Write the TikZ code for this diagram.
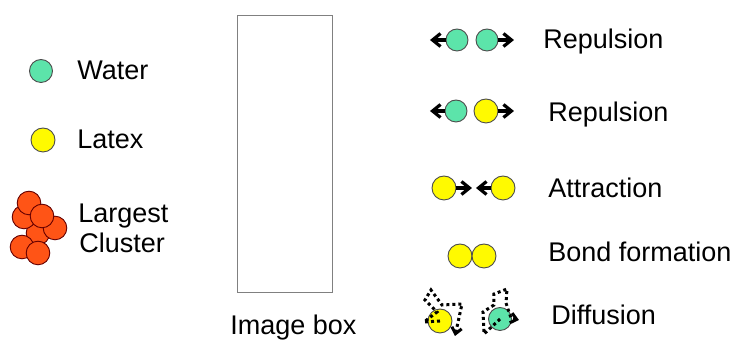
\documentclass[tikz,border=0pt]{standalone}
\usepackage{fontspec}
\setmainfont{Liberation Sans}
\usetikzlibrary{arrows.meta,positioning}
\definecolor{watergreen}{RGB}{92,228,170}
\definecolor{latexyellow}{RGB}{255,250,0}
\definecolor{clusterred}{RGB}{255,84,22}

\begin{document}
\begin{tikzpicture}[
  x=0.5pt, y=-0.5pt,
  ball/.style={circle, draw=black!70, line width=0.45pt, inner sep=0pt, minimum size=11.5pt},
  waterball/.style={ball, fill=watergreen},
  latexball/.style={ball, fill=latexyellow, minimum size=12pt},
  clusterball/.style={ball, fill=clusterred, draw=black!60!red, minimum size=11.8pt},
  lbl/.style={anchor=base west, inner sep=0pt, font=\fontsize{13.5}{16}\selectfont},
  force/.style={-{Straight Barb[length=4pt,width=6.5pt]}, line width=1.6pt},
  walk/.style={line width=1.5pt, dash pattern=on 1.5pt off 1.5pt, -{Straight Barb[length=3pt,width=5pt]}}
]
  \useasboundingbox (0,0) rectangle (736,341);

  % legend
  \node[waterball] (water) at (41,71) {};
  \node[lbl] (waterlbl) at (77,80) {Water};
  \node[latexball] (latex) at (43,140) {};
  \node[lbl] (latexlbl) at (77,149) {Latex};
  \foreach \i/\x/\y in {1/38/233, 2/55/228, 3/24/217, 4/22/247, 5/29/203, 6/42/216, 7/38/253}
    \node[clusterball] (cl\i) at (\x,\y) {};
  \node[lbl] (largest) at (78,223) {Largest};
  \node[lbl] (cluster) at (79,253) {Cluster};

  % image box
  \node[draw=gray, line width=0.5pt, minimum width=47.5pt, minimum height=138.5pt, inner sep=0pt] (imgbox) at (285.5,154.5) {};
  \node[lbl] (imglbl) at (230,335) {Image box};

  % repulsion water-water
  \node[waterball, minimum size=11pt] (rw1) at (457,40) {};
  \node[waterball, minimum size=11pt] (rw2) at (487,40) {};
  \coordinate (rtip1) at (430,40);
  \coordinate (rtip2) at (514,40);
  \draw[force] (rw1.west) -- (rtip1);
  \draw[force] (rw2.east) -- (rtip2);
  \node[lbl] (rep1) at (543,49) {Repulsion};

  % repulsion water-latex
  \node[waterball, minimum size=11pt] (rw3) at (456,111) {};
  \node[latexball] (rl1) at (486,111) {};
  \coordinate (rtip3) at (430,111);
  \coordinate (rtip4) at (514,111);
  \draw[force] (rw3.west) -- (rtip3);
  \draw[force] (rl1.east) -- (rtip4);
  \node[lbl] (rep2) at (548,122) {Repulsion};

  % attraction
  \node[latexball] (al1) at (444,188) {};
  \node[latexball] (al2) at (503,188) {};
  \coordinate (atip1) at (472,188);
  \coordinate (atip2) at (476,188);
  \draw[force] (al1.east) -- (atip1);
  \draw[force] (al2.west) -- (atip2);
  \node[lbl] (attr) at (548,198) {Attraction};

  % bond formation
  \node[latexball] (bl1) at (460,256) {};
  \node[latexball] (bl2) at (484,256) {};
  \node[lbl] (bond) at (548,262) {Bond formation};

  % diffusion
  \node[latexball] (dl) at (440,321) {};
  \node[waterball] (dw) at (500,319) {};
  \coordinate (dtip1) at (455,336);
  \coordinate (dtip2) at (519,320);
  \draw[walk] (dl.center) -- (424,322) -- (437,312) -- (425,300) -- (431,290) -- (442,305)
    -- (462,304) -- (dtip1);
  \draw[walk] (dw.center) -- (484,334) -- (483,312) -- (494,305) -- (494,294) -- (507,289)
    -- (506,303) -- (511,318) -- (dtip2);
  \node[lbl] (diff) at (551,325) {Diffusion};
\end{tikzpicture}
\end{document}
